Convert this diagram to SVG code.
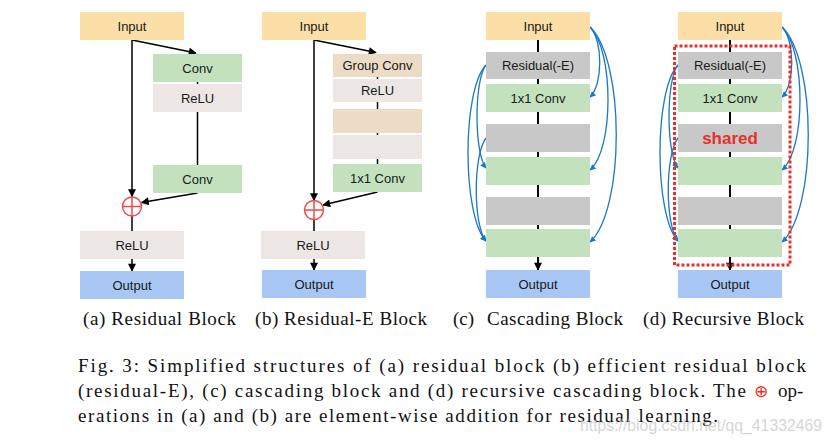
<svg xmlns="http://www.w3.org/2000/svg" width="832" height="442" viewBox="0 0 832 442">
<style>
.t{font-family:"Liberation Sans",Arial,sans-serif;font-size:13px;fill:#1a1a1a;text-anchor:middle}
.in{fill:#fbdfa6}.cv{fill:#c4e1bd}.rl{fill:#ece7e4}.gc{fill:#ecdbc5}.out{fill:#a9c7f5}.gr{fill:#c8c8c8}
.ln{stroke:#000;stroke-width:1.5;fill:none}
.lnk{stroke:#000;stroke-width:1.5;fill:none;marker-end:url(#ak)}
.c2{stroke:#000;stroke-width:2;fill:none;marker-end:url(#ak)}
.bl{stroke:#1b78c2;stroke-width:1.3;fill:none;marker-end:url(#ab)}
.add{fill:#fff;stroke:#f04a4a;stroke-width:1.5}
.addp{stroke:#f04a4a;stroke-width:1.5}
.cap{font-family:"Liberation Serif","Times New Roman",serif;font-size:19px;fill:#111}
</style>
<defs>
<marker id="ak" viewBox="0 0 10 10" refX="9" refY="5" markerWidth="9" markerHeight="8" markerUnits="userSpaceOnUse" orient="auto"><path d="M0,0 L10,5 L0,10 z" fill="#000"/></marker>
<marker id="ab" viewBox="0 0 10 10" refX="9" refY="5" markerWidth="7" markerHeight="6" markerUnits="userSpaceOnUse" orient="auto"><path d="M0,0 L10,5 L0,10 z" fill="#1b78c2"/></marker>
</defs>
<rect width="832" height="442" fill="#fff"/>
<g id="connectors">
<path class="lnk" d="M132,40 V196.5"/>
<path class="lnk" d="M132,40 L196,53"/>
<path class="ln" d="M197.5,82 V165"/>
<path class="lnk" d="M197.5,193 L141.5,202.5"/>
<path class="ln" d="M132,216 V231"/>
<path class="lnk" d="M132,259 V271"/>
<path class="lnk" d="M314,40 V200.5"/>
<path class="lnk" d="M314,40 L376,52.5"/>
<path class="ln" d="M377.5,77 V164"/>
<path class="lnk" d="M377.5,192 L323,205"/>
<path class="ln" d="M314,219 V231"/>
<path class="lnk" d="M314,259 V270"/>
<path class="c2" d="M538,40 V270"/>
<path class="bl" d="M590,27 C603,40 603,85 590,97"/>
<path class="bl" d="M590,27 C614,50 614,150 590,170"/>
<path class="bl" d="M590,27 C625,60 625,210 590,242"/>
<path class="bl" d="M486,65 C474,80 474,153 486,168"/>
<path class="bl" d="M486,65 C462,90 462,215 486,241"/>
<path class="bl" d="M486,138 C473,155 473,225 486,241"/>
<path class="c2" d="M730,40 V270"/>
<path class="bl" d="M782,27 C795,40 795,85 782,97"/>
<path class="bl" d="M782,27 C806,50 806,150 782,170"/>
<path class="bl" d="M782,27 C817,60 817,210 782,242"/>
<path class="bl" d="M678,65 C666,80 666,153 678,168"/>
<path class="bl" d="M678,65 C654,90 654,215 678,241"/>
<path class="bl" d="M678,138 C665,155 665,225 678,241"/>
</g>
<g id="a-input"><rect class="in" x="80" y="12" width="104" height="28"/><text class="t" x="132" y="30.5">Input</text></g>
<g id="a-conv1"><rect class="cv" x="153" y="54" width="89" height="28"/><text class="t" x="197.5" y="72.5">Conv</text></g>
<g id="a-relu1"><rect class="rl" x="153" y="84" width="89" height="28"/><text class="t" x="197.5" y="102.5">ReLU</text></g>
<g id="a-conv2"><rect class="cv" x="153" y="165" width="89" height="28"/><text class="t" x="197.5" y="183.5">Conv</text></g>
<g id="a-add"><circle class="add" cx="132" cy="206.5" r="9.5"/><path class="addp" d="M122.5,206.5 H141.5 M132,197 V216"/></g>
<g id="a-relu2"><rect class="rl" x="80" y="231" width="104" height="28"/><text class="t" x="132" y="249.5">ReLU</text></g>
<g id="a-output"><rect class="out" x="80" y="271" width="104" height="28"/><text class="t" x="132" y="289.5">Output</text></g>

<g id="b-input"><rect class="in" x="262" y="12" width="104" height="28"/><text class="t" x="314" y="30.5">Input</text></g>
<g id="b-gconv"><rect class="gc" x="333" y="54" width="89" height="23"/><text class="t" x="377.5" y="70">Group Conv</text></g>
<g id="b-relu1"><rect class="rl" x="333" y="79" width="89" height="23"/><text class="t" x="377.5" y="95">ReLU</text></g>
<g id="b-blank1"><rect class="gc" x="333" y="109" width="89" height="24"/></g>
<g id="b-blank2"><rect class="rl" x="333" y="135" width="89" height="24"/></g>
<g id="b-conv"><rect class="cv" x="333" y="164" width="89" height="28"/><text class="t" x="377.5" y="182.5">1x1 Conv</text></g>
<g id="b-add"><circle class="add" cx="314" cy="210" r="9.5"/><path class="addp" d="M304.5,210 H323.5 M314,200.5 V219.5"/></g>
<g id="b-relu2"><rect class="rl" x="261" y="231" width="104" height="28"/><text class="t" x="313" y="249.5">ReLU</text></g>
<g id="b-output"><rect class="out" x="262" y="270" width="104" height="28"/><text class="t" x="314" y="288.5">Output</text></g>

<g id="c-input"><rect class="in" x="486" y="12" width="104" height="28"/><text class="t" x="538" y="30.5">Input</text></g>
<g id="c-res1"><rect class="gr" x="486" y="52" width="104" height="27"/><text class="t" x="538" y="70">Residual(-E)</text></g>
<g id="c-conv1"><rect class="cv" x="486" y="84" width="104" height="28"/><text class="t" x="538" y="102.5">1x1 Conv</text></g>
<g id="c-res2"><rect class="gr" x="486" y="124" width="104" height="28"/></g>
<g id="c-conv2"><rect class="cv" x="486" y="157" width="104" height="28"/></g>
<g id="c-res3"><rect class="gr" x="486" y="197" width="104" height="28"/></g>
<g id="c-conv3"><rect class="cv" x="486" y="229" width="104" height="28"/></g>
<g id="c-output"><rect class="out" x="486" y="270" width="104" height="28"/><text class="t" x="538" y="288.5">Output</text></g>

<g id="d-input"><rect class="in" x="678" y="12" width="104" height="28"/><text class="t" x="730" y="30.5">Input</text></g>
<g id="d-res1"><rect class="gr" x="678" y="52" width="104" height="27"/><text class="t" x="730" y="70">Residual(-E)</text></g>
<g id="d-conv1"><rect class="cv" x="678" y="84" width="104" height="28"/><text class="t" x="730" y="102.5">1x1 Conv</text></g>
<g id="d-res2"><rect class="gr" x="678" y="124" width="104" height="28"/><text x="730" y="144" text-anchor="middle" font-family="Liberation Sans, Arial, sans-serif" font-size="17" font-weight="bold" fill="#e8302a">shared</text></g>
<g id="d-conv2"><rect class="cv" x="678" y="157" width="104" height="28"/></g>
<g id="d-res3"><rect class="gr" x="678" y="197" width="104" height="28"/></g>
<g id="d-conv3"><rect class="cv" x="678" y="229" width="104" height="28"/></g>
<g id="d-output"><rect class="out" x="678" y="270" width="104" height="28"/><text class="t" x="730" y="288.5">Output</text></g>
<g id="d-shared-region"><rect x="674.5" y="46" width="115.5" height="219" fill="none" stroke="#e8302a" stroke-width="3" stroke-dasharray="3 2"/></g>

<g id="captions">
<text class="cap" x="83" y="325" textLength="153" lengthAdjust="spacing">(a) Residual Block</text>
<text class="cap" x="255" y="325" textLength="172" lengthAdjust="spacing">(b) Residual-E Block</text>
<text class="cap" x="453" y="325" textLength="21" lengthAdjust="spacing">(c)</text>
<text class="cap" x="487" y="325" textLength="136" lengthAdjust="spacing">Cascading Block</text>
<text class="cap" x="643" y="325" textLength="161" lengthAdjust="spacing">(d) Recursive Block</text>
<text class="cap" x="78" y="371.5" textLength="728" lengthAdjust="spacing">Fig. 3: Simplified structures of (a) residual block (b) efficient residual block</text>
<text class="cap" x="78" y="396.5" textLength="668" lengthAdjust="spacing">(residual-E), (c) cascading block and (d) recursive cascading block. The</text>
<text x="761" y="397" text-anchor="middle" font-family="DejaVu Sans, sans-serif" font-size="17" fill="#e8302a">⊕</text>
<text class="cap" x="778" y="396.5">op-</text>
<text class="cap" x="78" y="421.5" textLength="640" lengthAdjust="spacing">erations in (a) and (b) are element-wise addition for residual learning.</text>
<text x="580" y="431" font-family="Liberation Sans, Arial, sans-serif" font-size="16" fill="#c8c8c8" fill-opacity="0.75" textLength="242" lengthAdjust="spacingAndGlyphs">https://blog.csdn.net/qq_41332469</text>
</g>
</svg>
